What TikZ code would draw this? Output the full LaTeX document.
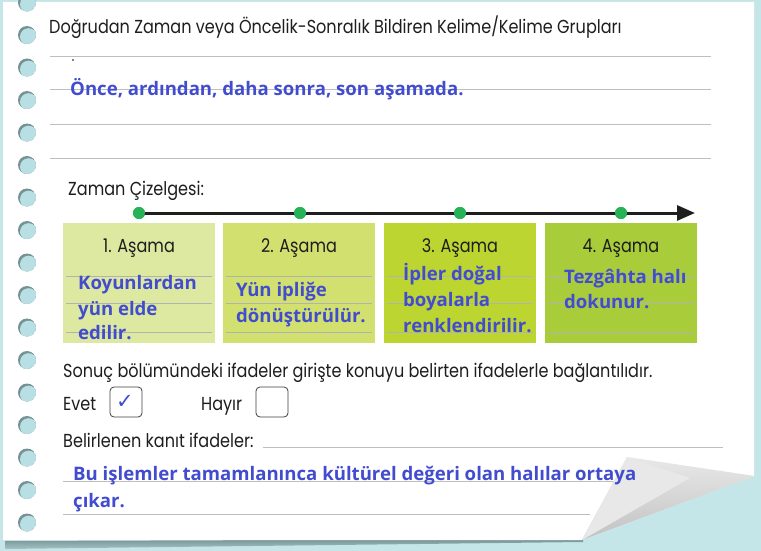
\documentclass[tikz,border=0pt]{standalone}
\usepackage{fontspec}
\setmainfont{Poppins}[FakeStretch=0.855]
\newfontfamily\bluefont{Open Sans}
\newfontfamily\symfont{DejaVu Sans}
\usetikzlibrary{arrows.meta}
\definecolor{bgc}{RGB}{197,230,232}
\definecolor{holel}{RGB}{184,224,228}
\definecolor{holed}{RGB}{118,146,148}
\definecolor{ansblue}{RGB}{66,76,206}
\definecolor{ruleg}{RGB}{190,190,190}
\definecolor{boxa}{RGB}{221,232,160}
\definecolor{boxb}{RGB}{210,224,112}
\definecolor{boxc}{RGB}{188,213,48}
\definecolor{boxd}{RGB}{168,204,58}
\definecolor{dotg}{RGB}{40,178,88}
\definecolor{inkc}{RGB}{30,30,30}
\tikzset{
  hand/.style={font=\fontsize{18.8}{22}\selectfont, text=inkc, inner sep=0pt, anchor=base west},
  ans/.style={font=\bluefont\bfseries\fontsize{18.6}{21}\selectfont, text=ansblue, inner sep=0pt, anchor=base west},
  rulel/.style={draw=ruleg, line width=1pt},
  boxrule/.style={draw=black!30, line width=0.7pt},
  stagebox/.style={rectangle, minimum width=152pt, minimum height=120pt, inner sep=0pt},
  tdot/.style={circle, fill=dotg, minimum size=12pt, inner sep=0pt},
  chk/.style={rectangle, rounded corners=4pt, draw=black!75, line width=0.8pt, minimum width=32pt, minimum height=30pt, inner sep=0pt},
}
\begin{document}
\begin{tikzpicture}[x=1pt,y=-1pt]
\useasboundingbox (0,0) rectangle (761,551);
\clip (0,0) rectangle (761,551);
% background
\fill[bgc] (0,0) rectangle (761,551);
% bottom shadow
\shade[top color=holed, bottom color=holed!40!bgc] (5,541) -- (583,539) -- (583,542) -- (5,549) -- cycle;
% paper
\fill[white] (3,2) -- (754,2) -- (754,476) -- (582,540) -- (3,540) -- cycle;
% holes
\foreach \k in {0,...,16}{
  \pgfmathsetmacro{\hy}{2.5+32.5*\k}
  \begin{scope}
    \clip (27,\hy) circle (9);
    \fill[holed] (27,\hy) circle (9);
    \fill[holel] (28.6,\hy+1.8) circle (8.6);
  \end{scope}
}
% title and top rules
\node[hand] (title) at (49,34) {Doğrudan Zaman veya Öncelik-Sonralık Bildiren Kelime/Kelime Grupları};
\foreach \ry in {57,90,124,158}{ \draw[rulel] (50,\ry) -- (711,\ry); }
\fill[black] (73,60) circle (0.9);
\node[ans] (ans1) at (70,95.5) {Önce, ardından, daha sonra, son aşamada.};
% timeline
\node[hand] (zc) at (68,195) {Zaman Çizelgesi:};
\node[tdot] (d1) at (139,213) {};
\node[tdot] (d2) at (300,213) {};
\node[tdot] (d3) at (460,213) {};
\node[tdot] (d4) at (621,213) {};
\coordinate (tend) at (695,213);
\draw[inkc, line width=3pt, -{Triangle[length=18pt,width=15pt]}] (d1.center) -- (tend);
\foreach \d in {d1,d2,d3,d4}{ \fill[dotg] (\d) circle (6); }
% stage boxes
\node[stagebox, fill=boxa] (b1) at (139,283) {};
\node[stagebox, fill=boxb] (b2) at (299,283) {};
\node[stagebox, fill=boxc] (b3) at (460,283) {};
\node[stagebox, fill=boxd] (b4) at (621,283) {};
\foreach \b in {b1,b2,b3,b4}{
  \foreach \ry in {276,303,332}{
    \draw[boxrule] ([xshift=3pt]\b.west |- 0,\ry) -- ([xshift=-3pt]\b.east |- 0,\ry);
  }
}
\node[hand, anchor=base] (h1) at (139,252) {1. Aşama};
\node[hand, anchor=base] (h2) at (299,252) {2. Aşama};
\node[hand, anchor=base] (h3) at (460,252) {3. Aşama};
\node[hand, anchor=base] (h4) at (621,252) {4. Aşama};
\node[ans] (t11) at (78,289) {Koyunlardan};
\node[ans] (t12) at (78,315) {yün elde};
\node[ans] (t13) at (78,339) {edilir.};
\node[ans] (t21) at (236,296) {Yün ipliğe};
\node[ans] (t22) at (236,322) {dönüştürülür.};
\node[ans] (t31) at (403,280) {İpler doğal};
\node[ans] (t32) at (403,306) {boyalarla};
\node[ans] (t33) at (403,332) {renklendirilir.};
\node[ans] (t41) at (564,283) {Tezgâhta halı};
\node[ans] (t42) at (564,308) {dokunur.};
% question
\node[hand] (q) at (63,377) {Sonuç bölümündeki ifadeler girişte konuyu belirten ifadelerle bağlantılıdır.};
\node[hand] (evet) at (63,410) {Evet};
\node[chk] (c1) at (126,402) {};
\node[font=\symfont\fontsize{21}{21}\selectfont, text=ansblue, inner sep=0pt] (tick) at ([xshift=-1pt]c1.center) {✓};
\node[hand] (hayir) at (201,410) {Hayır};
\node[chk] (c2) at (272,402) {};
\node[hand] (bel) at (63,447) {Belirlenen kanıt ifadeler:};
\draw[rulel] (263,447) -- (723,447);
\draw[rulel] (63,481) -- (640,481);
\draw[rulel] (63,514) -- (590,514);
% page curl
\shade[left color=black!9, right color=black!24, shading angle=0] (627,457) -- (755,476) -- (582,540) -- cycle;
\fill[black!9] (627,457) -- (690,478) -- (582,540) -- cycle;
% evidence text (drawn over the curl)
\node[ans] (ans2) at (73,480) {Bu işlemler tamamlanınca kültürel değeri olan halılar ortaya};
\node[ans] (ans3) at (73,507) {çıkar.};
\end{tikzpicture}
\end{document}
